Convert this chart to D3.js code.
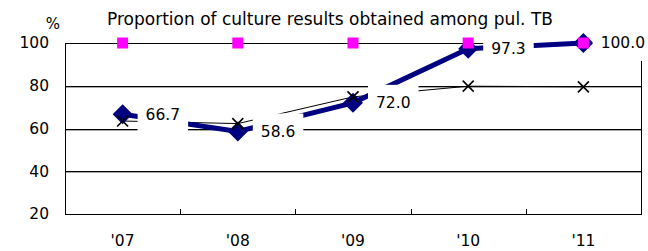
<!DOCTYPE html>
<meta charset="utf-8">
<script src="https://d3js.org/d3.v7.min.js"></script>
<style>
  body { margin: 0; background: #fff; }
  text { font-family: "DejaVu Sans", Verdana, sans-serif; fill: #000; }
</style>
<body>
<div id="chart"></div>
<script>
// chart data
var years = ["'07", "'08", "'09", "'10", "'11"];
var culture = [66.7, 58.6, 72.0, 97.3, 100.0];   // navy diamonds, labelled
var target = [100, 100, 100, 100, 100];          // magenta squares
var other = [63.5, 62.3, 74.8, 79.8, 79.5];      // black crosses
var yTicks = [20, 40, 60, 80, 100];
var title = "Proportion of culture results obtained among pul. TB";

var W = 648, H = 251;
var plot = {left: 65, right: 641, top: 43, bottom: 214};

var svg = d3.select("#chart").append("svg")
  .attr("width", W)
  .attr("height", H);

var x = d3.scaleBand().domain(years).range([plot.left, plot.right]);
var y = d3.scaleLinear().domain([20, 100]).range([plot.bottom, plot.top]);
var cx = function(d, i) { return x(years[i]) + x.bandwidth() / 2; };

// title and unit
svg.append("text")
  .attr("x", 330).attr("y", 25)
  .attr("text-anchor", "middle")
  .style("font-size", "17px")
  .text(title);

svg.append("text")
  .attr("x", 53).attr("y", 29)
  .attr("text-anchor", "middle")
  .style("font-size", "15px")
  .text("%");

// gridlines (with a light shadow line under each)
var grid = svg.append("g");
grid.selectAll("line.shadow")
  .data(yTicks.filter(function(t) { return t > 20 && t < 100; }))
  .enter().append("line")
    .attr("class", "shadow")
    .attr("x1", plot.left).attr("x2", plot.right)
    .attr("y1", function(d) { return Math.round(y(d)) + 1.5; })
    .attr("y2", function(d) { return Math.round(y(d)) + 1.5; })
    .attr("stroke", "#aaa");
grid.selectAll("line.grid")
  .data(yTicks)
  .enter().append("line")
    .attr("class", "grid")
    .attr("x1", plot.left).attr("x2", plot.right)
    .attr("y1", function(d) { return Math.round(y(d)) + 0.5; })
    .attr("y2", function(d) { return Math.round(y(d)) + 0.5; })
    .attr("stroke", "#000");

// frame sides
svg.append("line")
  .attr("x1", plot.left + 0.5).attr("x2", plot.left + 0.5)
  .attr("y1", plot.top).attr("y2", plot.bottom + 1)
  .attr("stroke", "#000");
svg.append("line")
  .attr("x1", plot.right + 0.5).attr("x2", plot.right + 0.5)
  .attr("y1", plot.top).attr("y2", plot.bottom + 1)
  .attr("stroke", "#000");

// y tick labels
svg.append("g").selectAll("text")
  .data(yTicks)
  .enter().append("text")
    .attr("x", 49)
    .attr("y", function(d) { return y(d); })
    .attr("dy", "0.35em")
    .attr("text-anchor", "end")
    .style("font-size", "15.5px")
    .text(function(d) { return d; });

// x axis: inner ticks between categories
svg.append("g").selectAll("line")
  .data(years.slice(1))
  .enter().append("line")
    .attr("x1", function(d) { return Math.round(x(d)) + 0.5; })
    .attr("x2", function(d) { return Math.round(x(d)) + 0.5; })
    .attr("y1", plot.bottom - 5).attr("y2", plot.bottom)
    .attr("stroke", "#000");

svg.append("g").selectAll("text")
  .data(years)
  .enter().append("text")
    .attr("x", function(d) { return x(d) + x.bandwidth() / 2; })
    .attr("y", 246)
    .attr("text-anchor", "middle")
    .style("font-size", "15.5px")
    .text(function(d) { return d; });

// thin line with crosses
var line = d3.line()
  .x(function(d, i) { return cx(d, i); })
  .y(function(d) { return y(d); });

svg.append("path")
  .datum(other)
  .attr("d", line)
  .attr("fill", "none")
  .attr("stroke", "#000")
  .attr("stroke-width", 1);

// thick navy line
svg.append("path")
  .datum(culture)
  .attr("d", line)
  .attr("fill", "none")
  .attr("stroke", "#000080")
  .attr("stroke-width", 5);

svg.append("g").selectAll("path")
  .data(culture)
  .enter().append("path")
    .attr("transform", function(d, i) { return "translate(" + cx(d, i) + "," + y(d) + ")"; })
    .attr("d", "M0,-10L10,0L0,10L-10,0Z")
    .attr("fill", "#000080");

svg.append("g").selectAll("path")
  .data(other)
  .enter().append("path")
    .attr("transform", function(d, i) { return "translate(" + cx(d, i) + "," + y(d) + ")"; })
    .attr("d", "M-5.5,-5.5L5.5,5.5M-5.5,5.5L5.5,-5.5")
    .attr("stroke", "#000")
    .attr("stroke-width", 1.6);

svg.append("g").selectAll("rect")
  .data(target)
  .enter().append("rect")
    .attr("x", function(d, i) { return cx(d, i) - 5.5; })
    .attr("y", function(d) { return y(d) - 5.5; })
    .attr("width", 11).attr("height", 11)
    .attr("fill", "#ff00ff");

// value labels with white boxes, pulled left if they would leave the picture
var labels = svg.append("g").selectAll("g")
  .data(culture)
  .enter().append("g");

labels.append("text")
  .attr("dy", "0.35em")
  .style("font-size", "15.5px")
  .text(function(d) { return d.toFixed(1); });

labels.each(function(d, i) {
  var g = d3.select(this);
  var w = g.select("text").node().getComputedTextLength();
  var tx = Math.min(cx(d, i) + 23, W - w - 3);
  g.attr("transform", "translate(" + tx + "," + y(d) + ")");
  g.insert("rect", "text")
    .attr("x", -8).attr("y", -18)
    .attr("width", w + 16).attr("height", 36)
    .attr("fill", "#fff");
});
</script>
</body>
